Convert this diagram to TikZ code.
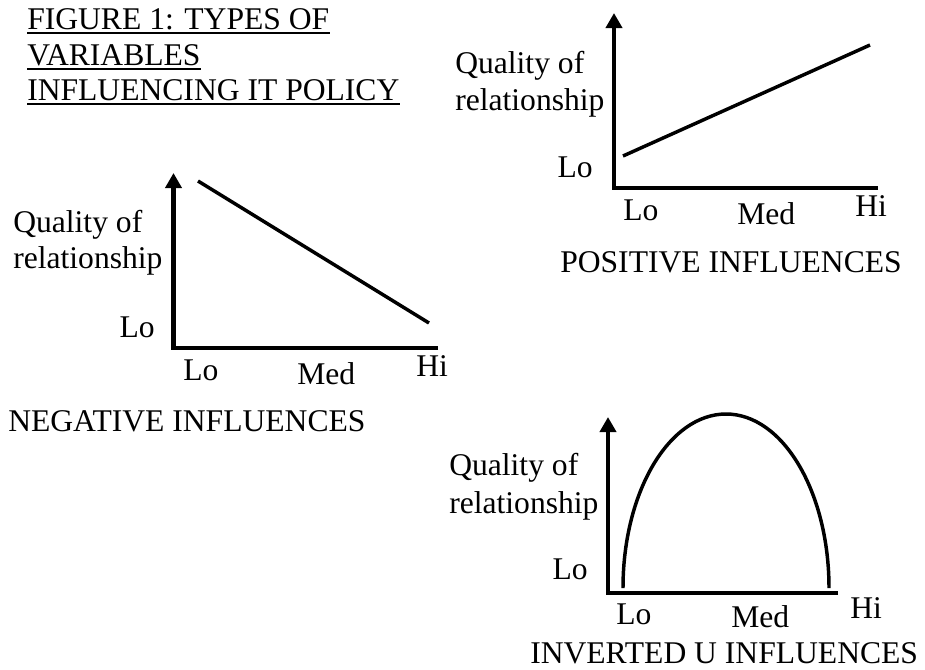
\documentclass[tikz,border=0pt]{standalone}
\usepackage{fontspec}
\setmainfont{Liberation Serif}
\usetikzlibrary{arrows.meta}
\tikzset{
  axisline/.style={line width=3.2pt, line join=miter, -{Triangle[width=12pt,length=11.25pt]}},
  dataline/.style={line width=2.6pt},
  uline/.style={line width=1.5pt},
  lbl/.style={inner sep=0pt, anchor=base west, font=\fontsize{23.7pt}{28pt}\selectfont},
  rlbl/.style={lbl, anchor=base east},
}
\begin{document}
\begin{tikzpicture}[x=0.75pt,y=-0.75pt]
\useasboundingbox (0,0) rectangle (925,669);

% Title
\node[lbl] (t1) at (27,29) {FIGURE 1: TYPES OF};
\node[lbl] (t2) at (27,65) {VARIABLES};
\node[lbl] (t3) at (27,100) {INFLUENCING IT POLICY};
\foreach \t in {t1,t2,t3}
  \draw[uline] ([yshift=-3.2pt]\t.base west) -- ([yshift=-3.2pt]\t.base east);

% Positive influences (top right)
\coordinate (pO) at (614,188);
\coordinate (pX) at (878,188);
\coordinate (pY) at (614,13);
\draw[axisline] (pX) -- (pO) -- (pY);
\coordinate (pA) at (623,156);
\coordinate (pB) at (870,45);
\draw[dataline] (pA) -- (pB);
\node[lbl] (pq1) at (455,73) {Quality of};
\node[lbl] (pq2) at (455,110) {relationship};
\node[rlbl] (plo) at (593,177) {Lo};
\node[lbl] (pxlo) at (623,220) {Lo};
\node[lbl] (pxmed) at (737,224) {Med};
\node[lbl] (pxhi) at (855,216) {Hi};
\node[lbl] (pcap) at (560,272) {POSITIVE INFLUENCES};

% Negative influences (left)
\coordinate (nO) at (173.5,348);
\coordinate (nX) at (438,348);
\coordinate (nY) at (173.5,173);
\draw[axisline] (nX) -- (nO) -- (nY);
\coordinate (nA) at (198,181);
\coordinate (nB) at (429,323);
\draw[dataline] (nA) -- (nB);
\node[lbl] (nq1) at (13,232) {Quality of};
\node[lbl] (nq2) at (13,268) {relationship};
\node[rlbl] (nlo) at (155,337) {Lo};
\node[lbl] (nxlo) at (183,380) {Lo};
\node[lbl] (nxmed) at (297,384) {Med};
\node[lbl] (nxhi) at (416,376) {Hi};
\node[lbl] (ncap) at (8,431) {NEGATIVE INFLUENCES};

% Inverted U influences (bottom right)
\coordinate (uO) at (608,593);
\coordinate (uX) at (838,593);
\coordinate (uY) at (608,417);
\draw[axisline] (uX) -- (uO) -- (uY);
\coordinate (uA) at (623,588);
\draw[dataline] (uA) arc[start angle=180, end angle=360, x radius=103, y radius=174];
\node[lbl] (uq1) at (449,475) {Quality of};
\node[lbl] (uq2) at (449,513) {relationship};
\node[rlbl] (ulo) at (588,579) {Lo};
\node[lbl] (uxlo) at (616,624) {Lo};
\node[lbl] (uxmed) at (731,627) {Med};
\node[lbl] (uxhi) at (850,618) {Hi};
\node[lbl] (ucap) at (530,663) {INVERTED U INFLUENCES};
\end{tikzpicture}
\end{document}
